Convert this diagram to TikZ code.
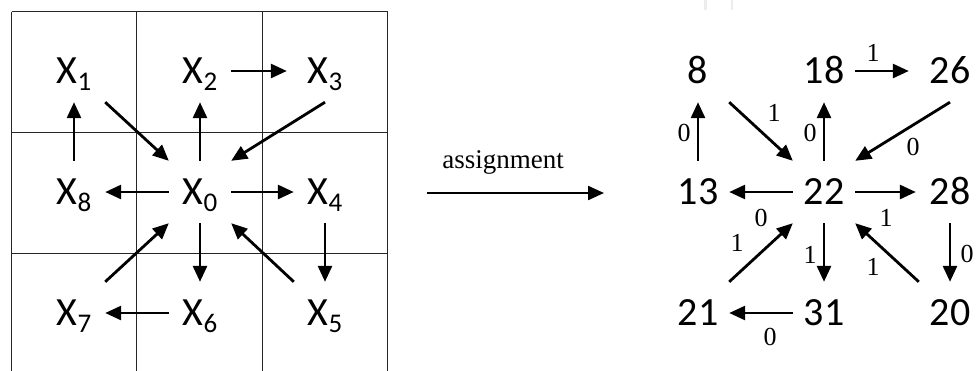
\documentclass[tikz,border=0pt]{standalone}
\usepackage{fontspec}
\setmainfont{Liberation Serif}
\newfontfamily\calib{Carlito}
\usetikzlibrary{arrows.meta}
\tikzset{
  cell/.style={rectangle, minimum width=62pt, minimum height=62pt, inner sep=0pt,
    font=\calib\fontsize{40}{40}\selectfont, text height=25pt, text depth=0pt},
  conn/.style={line width=2.8pt, -{Triangle[length=16pt,width=14pt]}},
  lab/.style={font=\fontsize{26}{26}\selectfont, inner sep=0pt},
  gridline/.style={line width=1.2pt, black!85},
}
\newcommand{\xs}[1]{X\raisebox{-6.7pt}{\fontsize{27}{27}\selectfont #1}}
\begin{document}
\begin{tikzpicture}[x=1pt,y=-1pt]
\useasboundingbox (0,0) rectangle (977,370);
% faint marks at top
\fill[black!7] (704,0) rectangle (707,10);
\fill[black!7] (731,0) rectangle (733,10);
% grid
\draw[gridline] (11.7,11.7) -- (387.7,11.7);
\draw[gridline] (11.7,132.3) -- (387.7,132.3);
\draw[gridline] (11.7,253.3) -- (387.7,253.3);
\draw[gridline] (11.7,11.7) -- (11.7,372);
\draw[gridline] (136.7,11.7) -- (136.7,372);
\draw[gridline] (262.3,11.7) -- (262.3,372);
\draw[gridline] (387.7,11.7) -- (387.7,372);
% left nodes
\node[cell] (X1) at (74,71) {\xs{1}};
\node[cell] (X2) at (200,71) {\xs{2}};
\node[cell] (X3) at (325,71) {\xs{3}};
\node[cell] (X8) at (74,192) {\xs{8}};
\node[cell] (X0) at (200,192) {\xs{0}};
\node[cell] (X4) at (325,192) {\xs{4}};
\node[cell] (X7) at (74,313) {\xs{7}};
\node[cell] (X6) at (200,313) {\xs{6}};
\node[cell] (X5) at (325,313) {\xs{5}};
% left arrows
\draw[conn, shorten >=7pt] (X2) -- (X3);
\draw[conn] (X8) -- (X1);
\draw[conn] (X1.south east) -- (X0.north west);
\draw[conn] (X0) -- (X2);
\draw[conn] (X3.south) -- (X0.north east);
\draw[conn] (X0) -- (X8);
\draw[conn] (X0) -- (X4);
\draw[conn] (X4) -- (X5);
\draw[conn] (X7.north east) -- (X0.south west);
\draw[conn] (X0) -- (X6);
\draw[conn] (X5.north west) -- (X0.south east);
\draw[conn] (X6) -- (X7);
% middle arrow
\coordinate (a1) at (427,193);
\coordinate (a2) at (604,193);
\draw[line width=2.3pt, -{Triangle[length=16pt,width=14pt]}] (a1) -- (a2);
\node[font=\fontsize{27}{27}\selectfont, inner sep=0pt] (asg) at (503,162) {assignment};
% right nodes
\node[cell] (n8) at (698,71) {8};
\node[cell] (n18) at (824,71) {18};
\node[cell] (n26) at (950,71) {26};
\node[cell] (n13) at (698,192) {13};
\node[cell] (n22) at (824,192) {22};
\node[cell] (n28) at (950,192) {28};
\node[cell] (n21) at (698,313) {21};
\node[cell] (n31) at (824,313) {31};
\node[cell] (n20) at (950,313) {20};
% right arrows
\draw[conn, shorten >=10pt] (n18) -- (n26);
\draw[conn] (n13) -- (n8);
\draw[conn] (n8.south east) -- (n22.north west);
\draw[conn] (n22) -- (n18);
\draw[conn] (n26.south) -- (n22.north east);
\draw[conn] (n22) -- (n13);
\draw[conn, shorten >=3pt] (n22) -- (n28);
\draw[conn] (n28) -- (n20);
\draw[conn] (n21.north east) -- (n22.south west);
\draw[conn] (n22) -- (n31);
\draw[conn] (n20.north west) -- (n22.south east);
\draw[conn] (n31) -- (n21);
% edge labels
\node[lab] (e1) at (873,53) {1};
\node[lab] (e2) at (774,113) {1};
\node[lab] (e3) at (684,133) {0};
\node[lab] (e4) at (810,133) {0};
\node[lab] (e5) at (913,147) {0};
\node[lab] (e6) at (761,218) {0};
\node[lab] (e7) at (886,218) {1};
\node[lab] (e8) at (967,254) {0};
\node[lab] (e9) at (737,243) {1};
\node[lab] (e10) at (810,255) {1};
\node[lab] (e11) at (873,267) {1};
\node[lab] (e12) at (770,337) {0};
\end{tikzpicture}
\end{document}
